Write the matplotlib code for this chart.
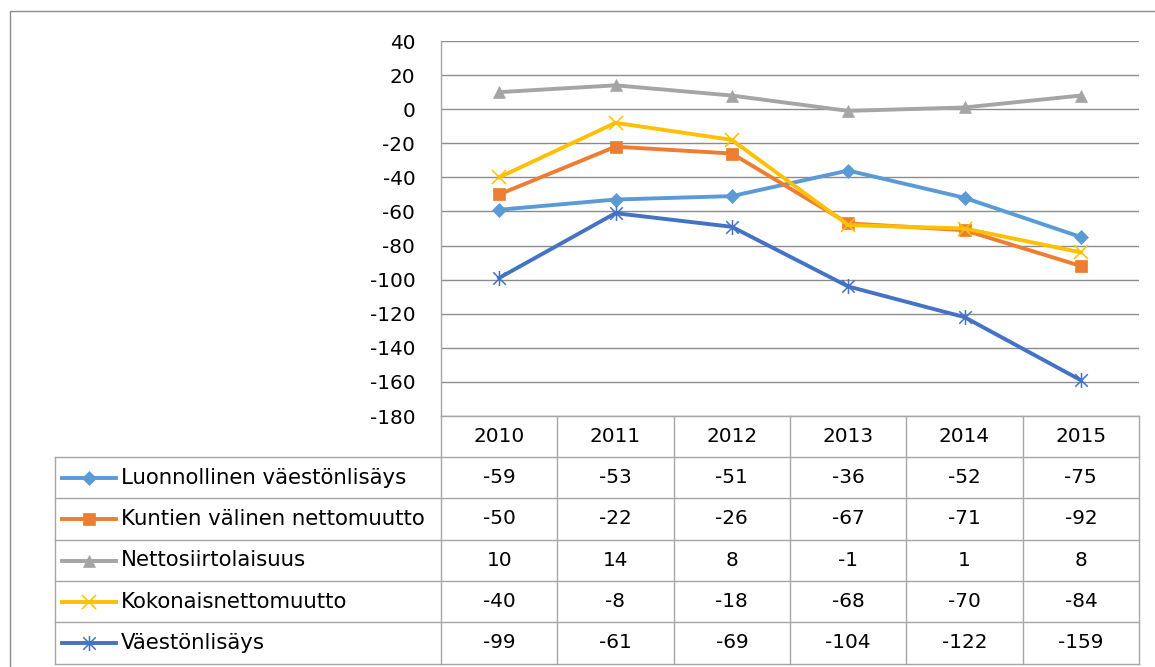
import matplotlib
matplotlib.use("Agg")
import matplotlib.pyplot as plt
from matplotlib.lines import Line2D
from matplotlib.patches import Rectangle
from matplotlib.path import Path

years = ["2010", "2011", "2012", "2013", "2014", "2015"]
series_names = ["Luonnollinen väestönlisäys", "Kuntien välinen nettomuutto",
                "Nettosiirtolaisuus", "Kokonaisnettomuutto", "Väestönlisäys"]
luonnollinen = [-59, -53, -51, -36, -52, -75]
kuntien = [-50, -22, -26, -67, -71, -92]
netto = [10, 14, 8, -1, 1, 8]
koko = [-40, -8, -18, -68, -70, -84]
vaesto = [-99, -61, -69, -104, -122, -159]
yticks = list(range(-180, 41, 20))

W, H = 1155, 667
plt.rcParams['font.family'] = ['DejaVu Sans']
FS = 14.4
FS_LAB = 15.3

fig = plt.figure(figsize=(W / 100, H / 100), dpi=100)

def fx(x):
    return x / W

def fy(y):
    return 1 - y / H

L, R, T, B = 441, 1139, 41, 416
ax = fig.add_axes([fx(L), fy(B), fx(R) - fx(L), fy(T) - fy(B)])
ax.set_xlim(-0.5, 5.5)
ax.set_ylim(-180, 40)
ax.set_yticks(yticks)
ax.set_yticklabels([str(v) for v in yticks], fontsize=FS)
ax.set_xticks([])
ax.tick_params(axis='y', length=0, pad=18.5)
grid_c = '#8c8c8c'
table_c = '#a6a6a6'
ax.grid(axis='y', color=grid_c, lw=1)
for s in ['top', 'right', 'bottom']:
    ax.spines[s].set_visible(False)
ax.spines['left'].set_color(table_c)
ax.spines['left'].set_linewidth(1)
ax.set_axisbelow(True)

star = Path([(-1, -1), (1, 1), (-1, 1), (1, -1), (0, -1.2), (0, 1.2)],
            [Path.MOVETO, Path.LINETO, Path.MOVETO, Path.LINETO, Path.MOVETO, Path.LINETO])

styles = [
    dict(color='#5B9BD5', marker='D', ms=7.0, mec='#5B9BD5', mfc='#5B9BD5', mew=0.5),
    dict(color='#ED7D31', marker='s', ms=9.2, mec='#ED7D31', mfc='#ED7D31', mew=0.5),
    dict(color='#A5A5A5', marker='^', ms=9.2, mec='#A5A5A5', mfc='#A5A5A5', mew=0.5),
    dict(color='#FFC000', marker='x', ms=10.0, mec='#FFC000', mew=1.1),
    dict(color='#4472C4', marker=star, ms=10.8, mec='#4472C4', mfc='none', mew=1.1),
]
data = [luonnollinen, kuntien, netto, koko, vaesto]
xs = list(range(len(years)))
for vals, st in zip(data, styles):
    ax.plot(xs, vals, lw=2.8, solid_joinstyle='round', clip_on=False, **st)

# Outer chart frame
fig.add_artist(Rectangle((fx(10), fy(H + 10)), fx(W + 10) - fx(10), fy(11) - fy(H + 10),
                         transform=fig.transFigure, fill=False, edgecolor=grid_c, lw=1))

# Data table
col_w = (R - L) / 6
row_edges = [416, 457, 498, 540, 581, 622, 664]
TL = 55

def hline(x0, x1, y):
    fig.add_artist(Line2D([fx(x0), fx(x1)], [fy(y), fy(y)], color=table_c, lw=1))

def vline(x, y0, y1):
    fig.add_artist(Line2D([fx(x), fx(x)], [fy(y0), fy(y1)], color=table_c, lw=1))

hline(L, R, row_edges[0])
for y in row_edges[1:]:
    hline(TL, R, y)
vline(TL, row_edges[1], row_edges[-1])
for i in range(7):
    vline(L + i * col_w, row_edges[0], row_edges[-1])

# header
yc = (row_edges[0] + row_edges[1]) / 2
for i, yr in enumerate(years):
    fig.text(fx(L + (i + 0.5) * col_w), fy(yc), yr, ha='center', va='center', fontsize=FS)

for r, (name, vals, st) in enumerate(zip(series_names, data, styles)):
    yc = (row_edges[r + 1] + row_edges[r + 2]) / 2
    fig.add_artist(Line2D([fx(62), fx(116)], [fy(yc), fy(yc)], lw=2.8, color=st['color']))
    mk = {k: v for k, v in st.items() if k != 'color'}
    fig.add_artist(Line2D([fx(89)], [fy(yc)], lw=0, **mk))
    fig.text(fx(121), fy(yc), name, ha='left', va='center', fontsize=FS_LAB)
    for i, v in enumerate(vals):
        fig.text(fx(L + (i + 0.5) * col_w), fy(yc), str(v), ha='center', va='center', fontsize=FS)

fig.savefig('out.png', dpi=100)
